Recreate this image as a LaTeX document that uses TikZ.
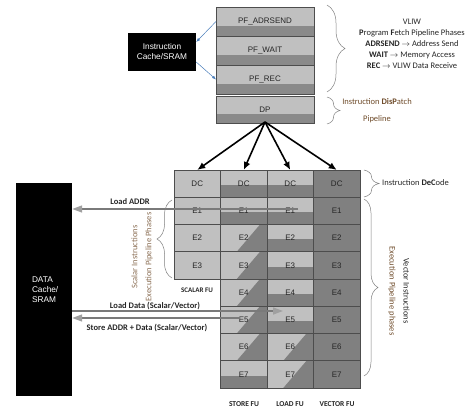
\documentclass[tikz,border=0pt]{standalone}
\usepackage{fontspec}
\setmainfont{Liberation Sans}
\newfontfamily\notefont{Carlito}
\usetikzlibrary{arrows.meta,calc,decorations.pathreplacing}

\definecolor{cellhi}{HTML}{C0C0C0}
\definecolor{celllo}{HTML}{808080}
\definecolor{bandlo}{HTML}{8A8A8A}
\definecolor{celledge}{HTML}{4D4D4D}
\definecolor{labelgray}{HTML}{262626}
\definecolor{linkblue}{HTML}{4A7EBB}
\definecolor{notebrown}{HTML}{6E4B2A}
\definecolor{bracegray}{HTML}{7F7F7F}
\definecolor{datagray}{HTML}{7A7A7A}
\definecolor{tipgray}{HTML}{A0A0A0}

\tikzset{
  cell/.style={draw=celledge, line width=0.5pt, minimum width=46.5pt, minimum height=27.25pt,
    inner sep=0pt, outer sep=0pt, text=labelgray, font=\fontsize{8}{9}\selectfont},
  cellL/.style={cell, fill=cellhi},
  cellD/.style={cell, fill=celllo},
  cellH/.style={cell, fill=cellhi, path picture={
    \fill[celllo] (path picture bounding box.south west) rectangle
      ($(path picture bounding box.east)!0.1!(path picture bounding box.south east)$);}},
  cellG/.style={cell, fill=cellhi, path picture={
    \fill[celllo] ($(path picture bounding box.north west)!0.85!(path picture bounding box.north east)$)
      -- (path picture bounding box.north east) -- (path picture bounding box.south east)
      -- ($(path picture bounding box.south west)!0.35!(path picture bounding box.south east)$) -- cycle;}},
  stage/.style={draw=celledge, line width=0.5pt, fill=cellhi, minimum width=98pt, minimum height=29pt,
    inner sep=0pt, outer sep=0pt, text=labelgray, font=\fontsize{8}{9}\selectfont, path picture={
    \fill[bandlo] (path picture bounding box.south west) rectangle
      ($(path picture bounding box.east)!0.3!(path picture bounding box.south east)$);}},
  memory/.style={fill=black, text=white, inner sep=0pt, font=\fontsize{8.3}{10}\selectfont},
  fanout/.style={line width=1.6pt, -{Latex[length=8pt,width=7pt]}},
  fetchlink/.style={draw=linkblue, line width=0.5pt, -{Latex[length=4pt,width=3pt]}},
  datalink/.style={draw=datagray, line width=1.5pt, -{Triangle[length=10pt,width=7pt,color=tipgray]}},
  note/.style={inner sep=0pt, text=labelgray, font=\notefont\fontsize{8.5}{11}\selectfont},
  fulabel/.style={inner sep=0pt, text=labelgray, font=\notefont\bfseries\fontsize{7}{8}\selectfont},
  span/.style={draw=bracegray, line width=0.5pt, decorate, decoration={brace, amplitude=#1}}
}

\begin{document}
\begin{tikzpicture}[x=1pt, y=-1pt]
\useasboundingbox (0,0) rectangle (469,409);

\node[stage] (adrsend) at (265,21.5) {PF\_ADRSEND};
\node[stage] (wait) at (265,50.5) {PF\_WAIT};
\node[stage] (rec) at (265,79.5) {PF\_REC};
\node[stage, minimum height=27pt] (dp) at (265,109.5) {DP};

\node[memory, minimum width=68pt, minimum height=38pt, align=center] (icache) at (162,52) {Instruction\\Cache/SRAM};
\draw[fetchlink] (adrsend.west) -- ([yshift=10pt]icache.east);
\draw[fetchlink] ([yshift=-10pt]icache.east) -- (rec.west);

\foreach \lab [count=\r from 0] in {DC,E1,E2,E3}
  \node[cellL] (sc-\r) at (197.25,{183.6+27.25*\r}) {\lab};
\foreach \lab/\sty [count=\r from 0] in {DC/cellH,E1/cellH,E2/cellG,E3/cellG,E4/cellG,E5/cellG,E6/cellG,E7/cellH}
  \node[\sty] (st-\r) at (243.75,{183.6+27.25*\r}) {\lab};
\foreach \lab/\sty [count=\r from 0] in {DC/cellH,E1/cellH,E2/cellH,E3/cellH,E4/cellH,E5/cellH,E6/cellG,E7/cellG}
  \node[\sty] (ld-\r) at (290.25,{183.6+27.25*\r}) {\lab};
\foreach \lab [count=\r from 0] in {DC,E1,E2,E3,E4,E5,E6,E7}
  \node[cellD] (vc-\r) at (336.75,{183.6+27.25*\r}) {\lab};

\foreach \c in {sc,st,ld,vc}
  \draw[fanout] ([yshift=1pt]dp.south) -- (\c-0.north);

\node[memory, minimum width=56pt, minimum height=213pt, text width=24pt, align=left] (dcache) at (44,289.5) {DATA\\Cache/\\SRAM};

\coordinate (addr-src) at (298,209);
\coordinate (load-dst) at (283,311);
\coordinate (store-src) at (240,318);
\draw[datalink] (addr-src) -- (addr-src -| dcache.east);
\draw[datalink] (load-dst -| dcache.east) -- (load-dst);
\draw[datalink] (store-src) -- (store-src -| dcache.east);
\node[note, font=\notefont\bfseries\fontsize{8.5}{10}\selectfont] (addr-lab) at (130,202) {Load ADDR};
\node[note, font=\notefont\bfseries\fontsize{8.5}{10}\selectfont] (load-lab) at (155,306) {Load Data (Scalar/Vector)};
\node[note, font=\notefont\bfseries\fontsize{8.5}{10}\selectfont] (store-lab) at (147,328) {Store ADDR + Data (Scalar/Vector)};

\node[fulabel] (scalar-fu) at (197,290) {SCALAR FU};
\node[fulabel, font=\notefont\bfseries\fontsize{7.5}{8}\selectfont] (store-fu) at (244,404) {STORE FU};
\node[fulabel, font=\notefont\bfseries\fontsize{7.5}{8}\selectfont] (load-fu) at (290,404) {LOAD FU};
\node[fulabel, font=\notefont\bfseries\fontsize{7.5}{8}\selectfont] (vector-fu) at (337,404) {VECTOR FU};

\draw[span=18pt] (327,5) -- (327,92);
\node[note, align=center] (fetch-note) at (412,44) {VLIW\\\textbf{P}rogram \textbf{F}etch Pipeline Phases\\\textbf{ADRSEND} $\rightarrow$ Address Send\\\textbf{WAIT} $\rightarrow$ Memory Access\\\textbf{REC} $\rightarrow$ VLIW Data Receive};

\draw[span=13pt] (327,97) -- (327,124);
\node[note, text=notebrown, align=center, font=\notefont\fontsize{8.5}{17}\selectfont] (dp-note) at (377,111) {Instruction \textbf{DisP}atch\\Pipeline};

\draw[span=15pt] (364,170) -- (364,197);
\node[note, anchor=west] (dc-note) at (382,183) {Instruction \textbf{DeC}ode};

\draw[span=14pt] (364,199) -- (364,376);
\node[note, rotate=-90, align=center, font=\notefont\fontsize{8.5}{14}\selectfont] (vec-note) at (399,291) {Vector Instructions\\\textcolor{notebrown}{Execution Pipeline phases}};

\draw[span=15pt] (172,278) -- (172,200);
\node[note, rotate=90, align=center, text=notebrown!80, font=\notefont\fontsize{8.5}{14}\selectfont] (sc-note) at (142,257) {Scalar Instructions\\Execution Pipeline Phases};
\end{tikzpicture}
\end{document}
